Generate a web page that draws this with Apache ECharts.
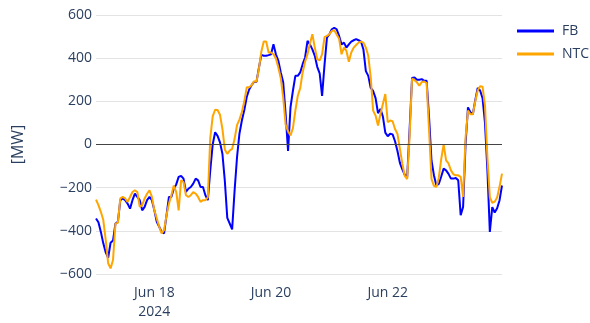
<!DOCTYPE html>
<html>
<head>
<meta charset="utf-8">
<script src="https://cdn.jsdelivr.net/npm/echarts@6/dist/echarts.min.js"></script>
<style>
html,body{margin:0;padding:0;background:#fff;}
#chart{width:590px;height:323px;}
</style>
</head>
<body>
<div id="chart"></div>
<script>
// Hourly values starting 2024-06-17 00:00 (hour index 0..167)
const fbValues = [
-343,-360,-405,-458,-500,-525,-455,-445,-366,-358,-258,-250,-258,-274,-297,-258,-228,-243,-258,-305,-289,-258,-243,-258,
-305,-358,-381,-405,-412,-328,-243,-243,-205,-185,-150,-145,-158,-220,-205,-197,-181,-158,-166,-197,-197,-235,-258,-120,
0,57,40,10,-43,-170,-340,-366,-393,-215,-60,50,111,160,220,255,275,290,290,355,415,411,411,414,
418,464,418,388,334,288,141,-30,172,249,318,318,334,372,403,480,464,441,411,360,330,225,370,495,
511,534,541,534,503,464,472,449,464,477,483,488,483,477,440,340,318,262,248,215,145,165,130,55,
38,50,47,15,-30,-85,-115,-140,-150,70,308,311,300,300,303,295,295,126,-74,-142,-190,-183,-148,-112,
-120,-136,-158,-158,-155,-166,-328,-289,0,172,150,140,205,262,250,215,100,-120,-405,-290,-315,-295,-258,-190
];
const ntcValues = [
-255,-281,-312,-350,-443,-550,-574,-535,-366,-363,-250,-243,-250,-266,-243,-220,-212,-220,-289,-281,-250,-228,-212,-243,
-305,-343,-381,-412,-397,-328,-274,-235,-190,-220,-305,-166,-174,-235,-243,-235,-220,-228,-243,-266,-258,-258,-245,30,
130,161,160,138,72,-24,-43,-28,-20,25,90,115,150,200,265,265,275,293,290,350,430,477,477,426,
426,418,399,357,307,218,92,61,42,76,157,226,261,334,384,418,468,511,449,395,390,418,497,503,
511,526,529,510,490,418,449,434,383,426,449,461,472,477,472,449,411,311,157,134,88,141,188,234,
103,111,108,72,49,-20,-89,-145,-160,40,305,298,288,272,290,292,285,65,-160,-192,-197,-155,-68,0,
-74,-88,-120,-138,-143,-143,-150,-243,30,157,140,140,200,250,270,268,180,-60,-245,-270,-265,-245,-195,-135
];
const seriesNames = ["FB", "NTC"];
const xTickHours = [24, 72, 120];
const xTickLabels = ["Jun 18\n2024", "Jun 20", "Jun 22"];
const yTickValues = [-600, -400, -200, 0, 200, 400, 600];
const yTickLabels = ["\u2212600", "\u2212400", "\u2212200", "0", "200", "400", "600"];
const yAxisTitle = "[MW]";

const toPairs = arr => arr.map((v, i) => [i, v]);
const font = '"Open Sans", "DejaVu Sans", sans-serif';
const textColor = '#2a3f5f';

const chart = echarts.init(document.getElementById('chart'), null, {renderer: 'canvas'});
chart.setOption({
  animation: false,
  backgroundColor: '#ffffff',
  grid: {left: 96, right: 88, top: 15, bottom: 49},
  legend: {
    orient: 'vertical', left: 517, top: 23, padding: 0, itemGap: 7,
    itemWidth: 37, itemHeight: 3, icon: 'rect',
    textStyle: {fontFamily: font, fontSize: 14, color: textColor, lineHeight: 16, padding: [0,0,0,3]},
    data: seriesNames
  },
  xAxis: {
    type: 'value', min: 0, max: fbValues.length - 1,
    axisLine: {show: false}, axisTick: {show: false}, splitLine: {show: false},
    axisLabel: {
      customValues: xTickHours,
      fontFamily: font, fontSize: 14, color: textColor, lineHeight: 19, margin: 10,
      formatter: v => { const i = xTickHours.indexOf(v); return i >= 0 ? xTickLabels[i] : ''; }
    }
  },
  yAxis: {
    type: 'value', min: -600, max: 600, interval: 200,
    name: yAxisTitle, nameLocation: 'middle', nameGap: 70, nameRotate: 90,
    nameTextStyle: {fontFamily: font, fontSize: 16, color: textColor},
    axisLine: {show: false}, axisTick: {show: false},
    splitLine: {lineStyle: {color: '#e3e3e3', width: 1}},
    axisLabel: {
      fontFamily: font, fontSize: 14, color: textColor, margin: 4,
      formatter: v => { const i = yTickValues.indexOf(v); return i >= 0 ? yTickLabels[i] : ''; }
    }
  },
  series: [
    {
      name: seriesNames[0], type: 'line', data: toPairs(fbValues), symbol: 'none',
      lineStyle: {color: '#0000ff', width: 2}, itemStyle: {color: '#0000ff'},
      markLine: {silent: true, symbol: 'none', label: {show: false},
        lineStyle: {color: '#444444', width: 1, type: 'solid'}, data: [{yAxis: 0}]},
      z: 2
    },
    {
      name: seriesNames[1], type: 'line', data: toPairs(ntcValues), symbol: 'none',
      lineStyle: {color: '#ffa500', width: 2}, itemStyle: {color: '#ffa500'}, z: 3
    }
  ]
});
</script>
</body>
</html>
